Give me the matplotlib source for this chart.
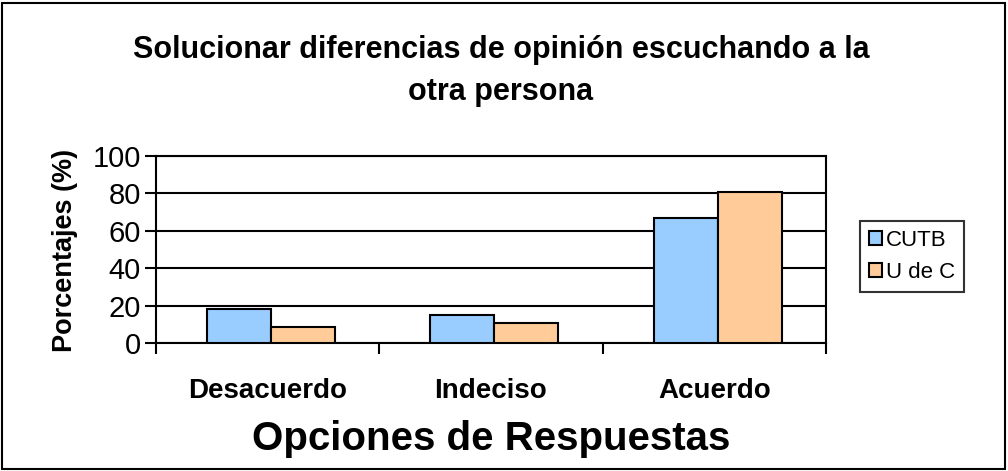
import numpy as np
import matplotlib
matplotlib.use("Agg")
import matplotlib.pyplot as plt
from matplotlib.patches import Rectangle

plt.rcParams['font.family'] = ['Liberation Sans', 'DejaVu Sans']

categorias = ["Desacuerdo", "Indeciso", "Acuerdo"]
series = ["CUTB", "U de C"]
cutb = [18, 15, 67]
udec = [8.5, 10.5, 81]
colores = ["#99ccff", "#ffcc99"]
yticks = [0, 20, 40, 60, 80, 100]
titulo = ["Solucionar diferencias de opinión escuchando a la", "otra persona"]

fig = plt.figure(figsize=(10.08, 4.71), dpi=100)
ax = fig.add_axes([156 / 1008, 1 - 343 / 471, 670 / 1008, 187 / 471])

x = np.arange(len(categorias))
w = 0.287
ax.bar(x - w / 2 + 0.015, cutb, w, color=colores[0], edgecolor="black", linewidth=1.5,
       label=series[0], zorder=3)
ax.bar(x + w / 2 + 0.015, udec, w, color=colores[1], edgecolor="black", linewidth=1.5,
       label=series[1], zorder=3)

ax.set_xlim(-0.5, len(categorias) - 0.5)
ax.set_ylim(0, 100)
ax.set_yticks(yticks)
ax.set_yticklabels([str(v) for v in yticks], fontsize=21)
ax.yaxis.grid(True, color="black", linewidth=1.5, zorder=0)
ax.set_axisbelow(True)

# category boundary ticks, labels in the middle
ax.set_xticks(np.arange(-0.5, len(categorias), 1.0))
ax.set_xticklabels([])
ax.set_xticks(x, minor=True)
ax.set_xticklabels(categorias, minor=True, fontsize=20, fontweight="bold")
ax.tick_params(axis="x", which="major", length=8, width=1.5, direction="out")
ax.tick_params(axis="x", which="minor", length=0, pad=25)
ax.tick_params(axis="y", length=8, width=1.5, direction="out", pad=3)
for s in ax.spines.values():
    s.set_linewidth(1.5)

ax.set_ylabel("Porcentajes (%)", fontsize=19.5, fontweight="bold")
ax.yaxis.set_label_coords(65 / 1008, 1 - 250 / 471, transform=fig.transFigure)
ax.yaxis.label.set_verticalalignment("center")
ax.set_xlabel("Opciones de Respuestas", fontsize=29, fontweight="bold", labelpad=12)

fig.text(0.497, 1 - 58 / 471, titulo[0], ha="center", va="baseline",
         fontsize=22, fontweight="bold")
fig.text(0.497, 1 - 100 / 471, titulo[1], ha="center", va="baseline",
         fontsize=22, fontweight="bold")

leg = fig.legend(loc="upper left", bbox_to_anchor=(860 / 1008, 1 - 221 / 471),
                 fontsize=16, frameon=True, fancybox=False, edgecolor="black",
                 handlelength=0.6, handleheight=0.6, handletextpad=0.15,
                 borderpad=0.4, labelspacing=0.5, borderaxespad=0)
leg.get_frame().set_linewidth(1.5)

fig.patches.append(Rectangle((2 / 1008, 2 / 471), 1003 / 1008, 466 / 471,
                             transform=fig.transFigure, fill=False,
                             edgecolor="black", linewidth=1.5))

fig.savefig("out.png", dpi=100)
